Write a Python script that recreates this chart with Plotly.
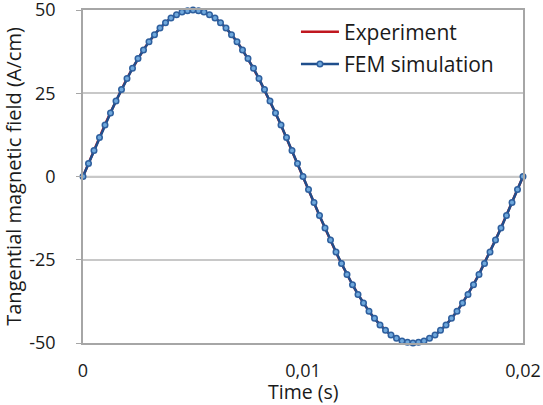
import plotly.graph_objects as go

# Time samples (s)
time_s = [0.0, 0.00025, 0.0005, 0.00075, 0.001, 0.00125, 0.0015, 0.00175, 0.002, 0.00225,
          0.0025, 0.00275, 0.003, 0.00325, 0.0035, 0.00375, 0.004, 0.00425, 0.0045, 0.00475,
          0.005, 0.00525, 0.0055, 0.00575, 0.006, 0.00625, 0.0065, 0.00675, 0.007, 0.00725,
          0.0075, 0.00775, 0.008, 0.00825, 0.0085, 0.00875, 0.009, 0.00925, 0.0095, 0.00975,
          0.01, 0.01025, 0.0105, 0.01075, 0.011, 0.01125, 0.0115, 0.01175, 0.012, 0.01225,
          0.0125, 0.01275, 0.013, 0.01325, 0.0135, 0.01375, 0.014, 0.01425, 0.0145, 0.01475,
          0.015, 0.01525, 0.0155, 0.01575, 0.016, 0.01625, 0.0165, 0.01675, 0.017, 0.01725,
          0.0175, 0.01775, 0.018, 0.01825, 0.0185, 0.01875, 0.019, 0.01925, 0.0195, 0.01975,
          0.02]

# Tangential magnetic field (A/cm), FEM simulation
fem_field = [0.0, 3.9, 7.8, 11.7, 15.5, 19.1, 22.7, 26.1, 29.4, 32.5,
             35.4, 38.0, 40.5, 42.6, 44.6, 46.2, 47.6, 48.6, 49.4, 49.8,
             50.0, 49.8, 49.4, 48.6, 47.6, 46.2, 44.6, 42.6, 40.5, 38.0,
             35.4, 32.5, 29.4, 26.1, 22.7, 19.1, 15.5, 11.7, 7.8, 3.9,
             0.0, -3.9, -7.8, -11.7, -15.5, -19.1, -22.7, -26.1, -29.4, -32.5,
             -35.4, -38.0, -40.5, -42.6, -44.6, -46.2, -47.6, -48.6, -49.4, -49.8,
             -50.0, -49.8, -49.4, -48.6, -47.6, -46.2, -44.6, -42.6, -40.5, -38.0,
             -35.4, -32.5, -29.4, -26.1, -22.7, -19.1, -15.5, -11.7, -7.8, -3.9,
             0.0]

# Experiment (measured)
exp_field = [0.0, 4.0, 7.9, 11.8, 15.6, 19.2, 22.8, 26.2, 29.5, 32.5,
             35.4, 38.1, 40.5, 42.7, 44.6, 46.2, 47.6, 48.6, 49.4, 49.8,
             50.0, 49.8, 49.4, 48.6, 47.6, 46.2, 44.6, 42.6, 40.5, 38.0,
             35.3, 32.4, 29.3, 26.0, 22.6, 19.0, 15.4, 11.6, 7.7, 3.8,
             -0.1, -4.0, -7.9, -11.8, -15.6, -19.2, -22.8, -26.2, -29.5, -32.5,
             -35.4, -38.1, -40.5, -42.7, -44.6, -46.2, -47.6, -48.6, -49.4, -49.8,
             -50.0, -49.8, -49.4, -48.6, -47.6, -46.2, -44.6, -42.6, -40.5, -38.0,
             -35.3, -32.4, -29.3, -26.0, -22.6, -19.0, -15.4, -11.6, -7.7, -3.8,
             0.0]

x_tick_vals = [0, 0.01, 0.02]
x_tick_text = ["0", "0,01", "0,02"]
y_tick_vals = [-50, -25, 0, 25, 50]
y_tick_text = ["-50", "-25", "0", "25", "50"]

font_family = "Open Sans, Liberation Sans, sans-serif"

fig = go.Figure()
fig.add_trace(go.Scatter(
    x=time_s, y=exp_field, mode="lines", name="Experiment", legendgroup="a",
    line=dict(color="#c0171f", width=2.5), cliponaxis=False,
))
fig.add_trace(go.Scatter(
    x=time_s, y=fem_field, mode="lines+markers", name="FEM simulation", legendgroup="b",
    line=dict(color="#1f4e8c", width=2.5),
    marker=dict(symbol="circle", size=5.5, color="#6fa8dc",
                line=dict(color="#2e5f9e", width=1.5)),
    cliponaxis=False,
))

fig.update_layout(
    width=543, height=405,
    margin=dict(l=83, r=20, t=10, b=62, autoexpand=False),
    paper_bgcolor="white", plot_bgcolor="white",
    font=dict(family=font_family, size=18, color="#1a1a1a"),
    showlegend=True,
    legend=dict(x=0.484, y=0.995, xanchor="left", yanchor="top",
                bgcolor="rgba(255,255,255,0)", font=dict(size=21),
                itemwidth=38, tracegroupgap=2),
)
fig.update_xaxes(
    range=[0, 0.02], tickvals=x_tick_vals, ticktext=x_tick_text,
    showgrid=False, zeroline=False, automargin=False, ticklabeloverflow="allow",
    showline=True, linecolor="#a6a6a6", linewidth=1.5, mirror=True,
    ticks="", ticklabelstandoff=11,
)
fig.update_yaxes(
    range=[-50, 50], tickvals=y_tick_vals, ticktext=y_tick_text,
    showgrid=True, gridcolor="#c8c8c8", gridwidth=1.5, zeroline=False, automargin=False,
    ticklabeloverflow="allow",
    showline=True, linecolor="#a6a6a6", linewidth=1.5, mirror=True,
    ticks="outside", ticklen=5, tickcolor="#a6a6a6", ticklabelstandoff=17,
    title=dict(text="Tangential magnetic field (A/cm)", standoff=11, font=dict(size=20)),
)
fig.add_annotation(text="Time (s)", xref="paper", yref="paper", x=0.5, y=-0.147,
                   xanchor="center", yanchor="middle", showarrow=False,
                   font=dict(size=19.5))
fig.add_shape(type="line", xref="x", yref="y", x0=0, x1=0.02, y0=0, y1=0,
              line=dict(color="#c8c8c8", width=1.5), layer="below")

fig.write_html("out.html", config={"displayModeBar": False},
               post_script="document.body.style.margin='0';")
